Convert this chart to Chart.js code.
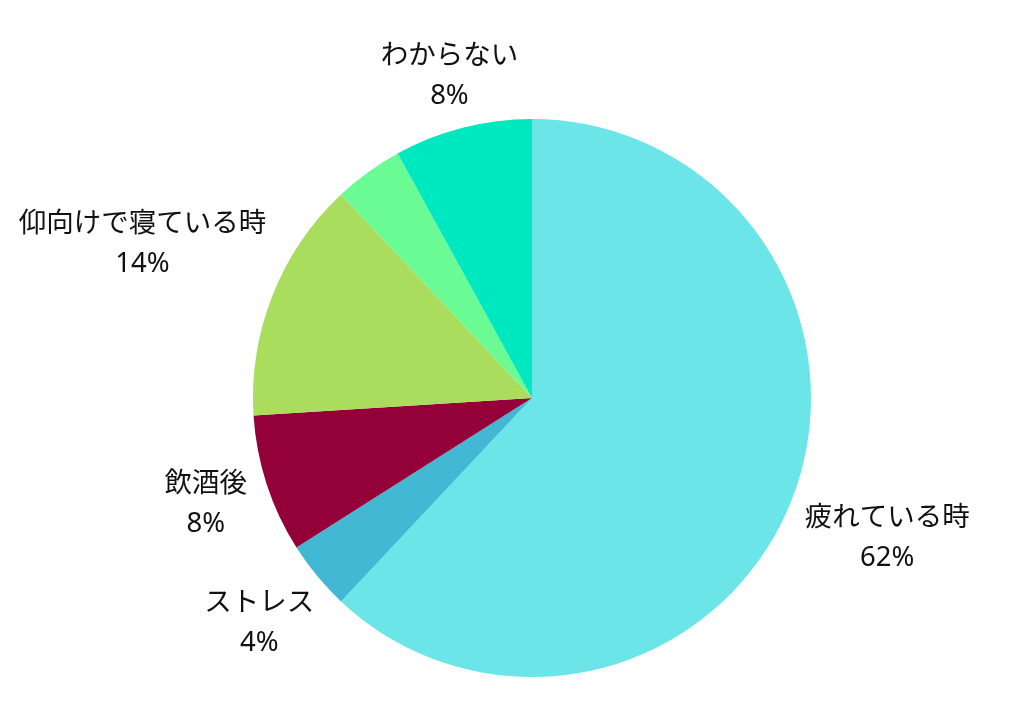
<!DOCTYPE html>
<html>
<head>
<meta charset="utf-8">
<script src="https://cdn.jsdelivr.net/npm/chart.js@4/dist/chart.umd.min.js"></script>
<style>
  html, body { margin: 0; padding: 0; background: #fff; }
  #wrap { width: 1020px; height: 709px; }
</style>
</head>
<body>
<div id="wrap"><canvas id="pie"></canvas></div>
<script>
// slices clockwise from 12 o'clock
const categories = ['疲れている時', 'ストレス', '飲酒後', '仰向けで寝ている時', '', 'わからない']
const shares = [62, 4, 8, 14, 4, 8]
const sliceColors = ['#6ce5e8', '#42b8d5', '#940038', '#aadc5e', '#6afb94', '#00e8c0']

const FONT = '"Noto Sans", "Noto Sans CJK JP", sans-serif'

// draws name + percentage outside each slice, pushed out until the text box clears the pie
const outsideLabels = {
  id: 'outsideLabels',
  afterDatasetsDraw(chart) {
    const ctx = chart.ctx
    const meta = chart.getDatasetMeta(0)
    const gap = 16
    const lineH = 40
    ctx.save()
    ctx.font = '27.5px ' + FONT
    ctx.fillStyle = '#111'
    ctx.textAlign = 'center'
    ctx.textBaseline = 'middle'
    meta.data.forEach((arc, i) => {
      const name = categories[i]
      if (!name) return
      const pct = shares[i] + '%'
      const { x, y, startAngle, endAngle, outerRadius } = arc.getProps(['x', 'y', 'startAngle', 'endAngle', 'outerRadius'], true)
      const mid = (startAngle + endAngle) / 2
      const dx = Math.cos(mid)
      const dy = Math.sin(mid)
      const hw = Math.max(ctx.measureText(name).width, ctx.measureText(pct).width) / 2
      const hh = lineH * 0.65
      const target = outerRadius + gap
      let t = target
      for (; t < target + 400; t += 1) {
        const cx = t * dx, cy = t * dy
        const nx = Math.max(Math.abs(cx) - hw, 0)
        const ny = Math.max(Math.abs(cy) - hh, 0)
        if (Math.hypot(nx, ny) >= target) break
      }
      const cx = x + t * dx
      const cy = y + t * dy
      ctx.fillText(name, cx, cy - lineH / 2)
      ctx.fillText(pct, cx, cy + lineH / 2)
    })
    ctx.restore()
  }
}

new Chart(document.getElementById('pie'), {
  type: 'pie',
  data: {
    labels: categories,
    datasets: [{
      data: shares,
      backgroundColor: sliceColors,
      borderWidth: 0,
      hoverOffset: 0
    }]
  },
  options: {
    responsive: true,
    maintainAspectRatio: false,
    animation: false,
    layout: { padding: { left: 253, right: 209, top: 119, bottom: 32 } },
    plugins: {
      legend: { display: false },
      tooltip: { enabled: false }
    }
  },
  plugins: [outsideLabels]
})
</script>
</body>
</html>
